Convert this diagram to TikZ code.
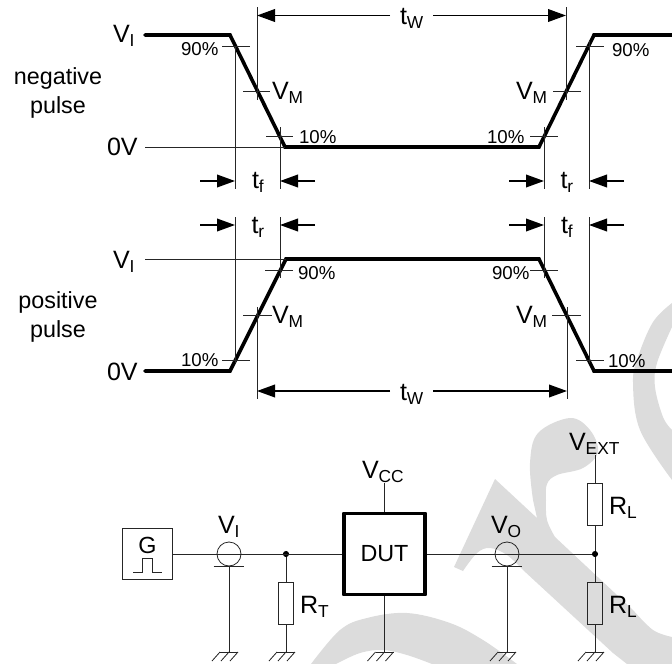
\documentclass[tikz,border=0pt]{standalone}
\usepackage{fontspec}
\setmainfont{Liberation Sans}
\usetikzlibrary{arrows.meta}
\definecolor{wm}{HTML}{DCDCDC}
\newcommand\subs[1]{\raisebox{-3.6pt}{\fontsize{13}{13}\selectfont #1}}
\tikzset{
  thin line/.style={line width=0.6pt,draw=black!85},
  wave/.style={line width=2.7pt,line join=miter,line cap=round},
  lbl/.style={inner sep=0pt,outer sep=0pt,anchor=base west,font=\fontsize{18.8}{18.8}\selectfont},
  pct/.style={inner sep=0pt,outer sep=0pt,anchor=base west,font=\fontsize{14}{14}\selectfont},
  side/.style={inner sep=0pt,outer sep=0pt,anchor=base,font=\fontsize{17.5}{17.5}\selectfont},
  dim/.style={line width=1.2pt,-{Triangle[length=13.5pt,width=9.5pt]}},
  res/.style={draw=black!85,line width=0.6pt,minimum width=11pt,minimum height=31.5pt,inner sep=0pt,outer sep=0pt},
  probe/.style={circle,draw=black!85,line width=0.6pt,minimum size=18pt,inner sep=0pt,outer sep=0pt},
  junction/.style={circle,fill=black,minimum size=4.6pt,inner sep=0pt,outer sep=0pt},
  gnd/.pic={
    \draw[thin line] (-9,0) -- (9,0);
    \foreach \d in {-9,0,9} \draw[thin line] (\d,0) -- (\d-8,9);
  }
}
\begin{document}
\begin{tikzpicture}[x=0.75pt,y=-0.75pt]
\useasboundingbox (0,0) rectangle (672,664);
% watermark
\fill[wm] (454,567) -- (495,479) -- (537,518) -- (533,500)
  -- plot[smooth,tension=0.6] coordinates {(533,500) (530,463) (538,433) (570,418) (590,430) (598,452) (583,468) (557,475) (547,484) (546,500) (547,520) (555,537)}
  -- (633,610)
  -- plot[smooth,tension=0.6] coordinates {(633,610) (653,630) (672,637)}
  -- (672,664) -- (627,664) -- (613,653) -- (523,570)
  -- plot[smooth,tension=0.6] coordinates {(523,570) (507,555) (490,548) (477,553) (463,571)}
  -- cycle;
\fill[wm] plot[smooth,tension=0.6] coordinates {(672,303) (653,322) (638,357) (633,383) (640,430) (672,480)}
  -- plot[smooth,tension=0.6] coordinates {(672,430) (663,417) (655,387) (657,363) (672,327)} -- cycle;
\fill[wm] plot[smooth,tension=0.6] coordinates {(311,664) (340,630) (367,618) (407,613) (450,623) (483,640) (517,664)}
  -- plot[smooth,tension=0.6] coordinates {(432,664) (407,655) (383,650) (360,653) (336,664)} -- cycle;

% top waveform
\draw[wave] (145,35) -- (230,35) -- (285,147) -- (539,147) -- (594,35) -- (675,35);
\draw[thin line] (145,147) -- (285,147);
\foreach \a/\b/\y in {222/250/46,243/270/91,266/293/136,530/558/136,553/581/91,576/604/46}
  \draw[thin line] (\a,\y) -- (\b,\y);
\draw[thin line] (235,46) -- (235,189);
\draw[thin line] (280,127) -- (280,189);
\draw[thin line] (544,127) -- (544,189);
\draw[thin line] (589,40) -- (589,189);
\draw[thin line] (257,7) -- (257,100);
\draw[thin line] (566,7) -- (566,100);
\draw[dim] (390,15.5) -- (257,15.5);
\draw[dim] (433,15.5) -- (566,15.5);
\draw[dim] (200,181) -- (235,181);
\draw[dim] (315,181) -- (280,181);
\draw[dim] (509,181) -- (544,181);
\draw[dim] (624,181) -- (589,181);

% bottom waveform
\draw[wave] (145,371) -- (230,371) -- (286,259) -- (539,259) -- (594,371) -- (675,371);
\draw[thin line] (145,259) -- (286,259);
\foreach \a/\b/\y in {222/250/360,243/272/315,265/293/270,530/558/270,552/581/315,576/604/360}
  \draw[thin line] (\a,\y) -- (\b,\y);
\draw[thin line] (235,217) -- (235,363);
\draw[thin line] (280,217) -- (280,278);
\draw[thin line] (544,217) -- (544,278);
\draw[thin line] (589,217) -- (589,363);
\draw[thin line] (257,307) -- (257,399);
\draw[thin line] (567,307) -- (567,399);
\draw[dim] (390,391) -- (257,391);
\draw[dim] (433,391) -- (567,391);
\draw[dim] (200,225) -- (235,225);
\draw[dim] (315,225) -- (280,225);
\draw[dim] (509,225) -- (544,225);
\draw[dim] (624,225) -- (589,225);

% waveform labels
\node[lbl] (vi1) at (113,42) {V\subs{I}};
\node[lbl] (zero1) at (107,155) {0V};
\node[lbl] (vi2) at (113,268) {V\subs{I}};
\node[lbl] (zero2) at (107,380) {0V};
\node[side] (neg) at (58,84) {negative};
\node[side] (negp) at (58,113) {pulse};
\node[side] (pos) at (58,308) {positive};
\node[side] (posp) at (58,337) {pulse};
\node[lbl] (tw1) at (400,24) {t\subs{W}};
\node[lbl] (tw2) at (400,400) {t\subs{W}};
\node[lbl] (tf1) at (252,188) {t\subs{f}};
\node[lbl] (tr1) at (560.5,188) {t\subs{r}};
\node[lbl] (tr2) at (251.5,233) {t\subs{r}};
\node[lbl] (tf2) at (561,233) {t\subs{f}};
\node[lbl] (vm1) at (272,99) {V\subs{M}};
\node[lbl] (vm2) at (516,99) {V\subs{M}};
\node[lbl] (vm3) at (272,323) {V\subs{M}};
\node[lbl] (vm4) at (516,323) {V\subs{M}};
\node[pct] (p1) at (181,55) {90\%};
\node[pct] (p2) at (612,56) {90\%};
\node[pct] (p3) at (299,143) {10\%};
\node[pct] (p4) at (487,143) {10\%};
\node[pct] (p5) at (298,279) {90\%};
\node[pct] (p6) at (492,279) {90\%};
\node[pct] (p7) at (181,366) {10\%};
\node[pct] (p8) at (608,367) {10\%};

% circuit
\node[draw=black!85,line width=0.7pt,minimum size=38pt,inner sep=0pt,outer sep=0pt] (gen) at (147.5,554) {};
\node[anchor=base,inner sep=0pt,font=\fontsize{17.5}{17.5}\selectfont] (gtext) at (147.5,553) {G};
\draw[thin line] (133,572) -- (142,572) -- (142,558) -- (152,558) -- (152,572) -- (162,572);
\node[draw=black,line width=2.7pt,line join=round,minimum size=61pt,inner sep=0pt,outer sep=1.35pt] (dut) at (384.5,554) {};
\node[anchor=base,inner sep=0pt,font=\fontsize{17.5}{17.5}\selectfont] (duttext) at (384.5,561) {DUT};
\node[probe] (pi) at (229,554) {};
\node[probe] (po) at (507,554) {};
\node[junction] (j1) at (286,554) {};
\node[junction] (j2) at (595,554) {};
\node[res] (rt) at (286,603) {};
\node[res] (rl1) at (595,504.5) {};
\node[res] (rl2) at (595,603) {};
\coordinate (pib) at (229,566);
\coordinate (pob) at (507,566);
\coordinate (g1) at (229,652);
\coordinate (g2) at (286,652);
\coordinate (g3) at (384.5,652);
\coordinate (g4) at (507,652);
\coordinate (g5) at (595,652);
\coordinate (vcc) at (384.5,483);
\coordinate (vext) at (595,455);
\draw[thin line] (gen.east) -- (dut.west);
\draw[thin line] (dut.east) -- (j2);
\draw[thin line] (vcc) -- (dut.north);
\draw[thin line] (dut.south) -- (g3);
\draw[thin line] (j1) -- (rt) -- (g2);
\draw[thin line] (vext) -- (rl1) -- (j2) -- (rl2) -- (g5);
\draw[thin line] (pib) -- (g1);
\draw[thin line] (pob) -- (g4);
\draw[thin line] ([xshift=-11.5]pib) -- ([xshift=11.5]pib);
\draw[thin line] ([xshift=-11.5]pob) -- ([xshift=11.5]pob);
\foreach \g in {g1,g2,g3,g4,g5} \path (\g) pic {gnd};
\node[lbl] (lvi) at (218,533) {V\subs{I}};
\node[lbl] (lvo) at (491,533) {V\subs{O}};
\node[lbl] (lvcc) at (362,478) {V\subs{CC}};
\node[lbl] (lvext) at (569,450) {V\subs{EXT}};
\node[lbl] (lrt) at (300,613) {R\subs{T}};
\node[lbl] (lrl1) at (609,514) {R\subs{L}};
\node[lbl] (lrl2) at (609,613) {R\subs{L}};
\end{tikzpicture}
\end{document}
